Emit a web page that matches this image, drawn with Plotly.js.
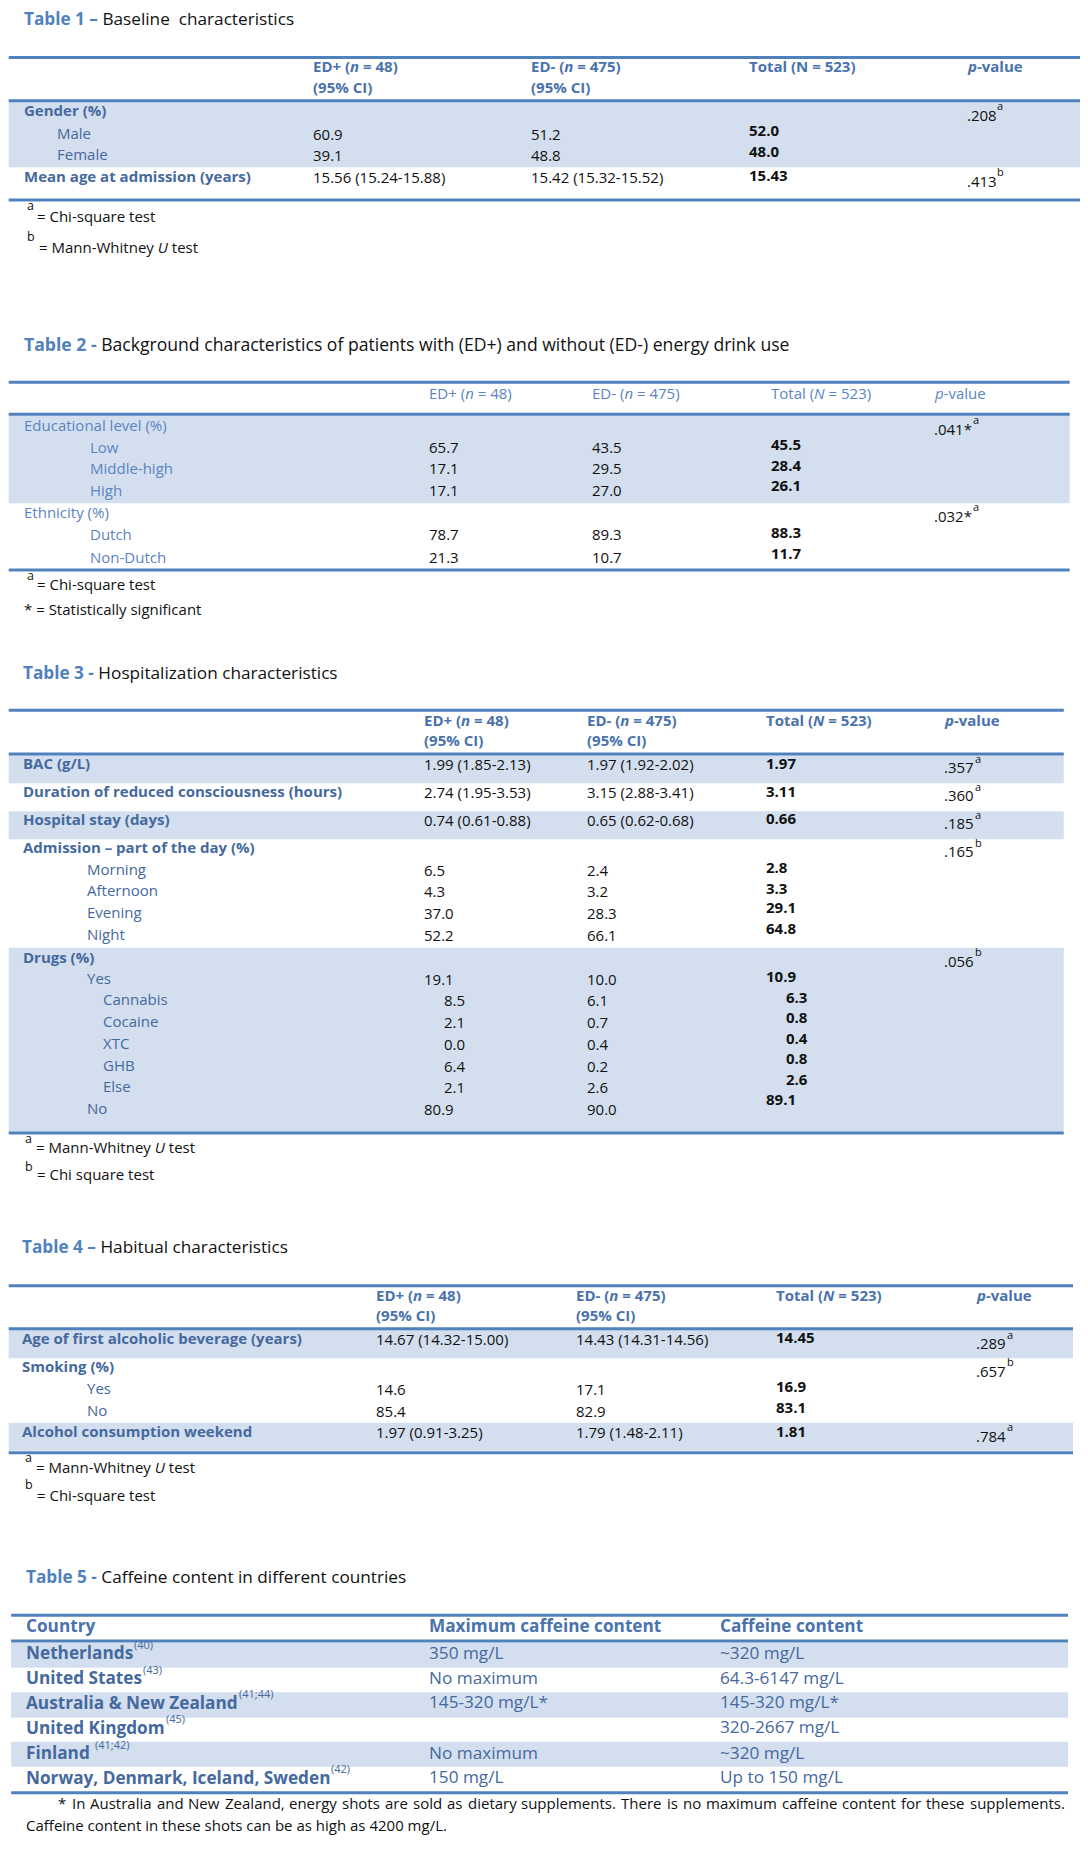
<!DOCTYPE html>
<html><head><meta charset="utf-8">
<script src="https://cdn.plot.ly/plotly-3.0.1.min.js"></script>
<style>html,body{margin:0;padding:0;background:#fff}</style>
</head><body><div id="chart" style="width:1088px;height:1850px"></div>
<script>
// ---------------- DATA ----------------
// Table 1
const t1Title = ["Table 1 –", "Baseline\u00a0 characteristics"];
const t1Header = ["ED+ (<i>n</i> = 48)", "ED- (<i>n</i> = 475)", "Total (N = 523)", "<i>p</i>-value"];
const t1Header2 = ["(95% CI)", "(95% CI)", "", ""];
const t1Labels = ["Gender (%)", "Male", "Female", "Mean age at admission (years)"];
const t1Level = [0, 1, 1, 0];
const t1EDplus = ["", "60.9", "39.1", "15.56 (15.24-15.88)"];
const t1EDminus = ["", "51.2", "48.8", "15.42 (15.32-15.52)"];
const t1Total = ["", "52.0", "48.0", "15.43"];
const t1P = [".208", "", "", ".413"];
const t1PSup = ["a", "", "", "b"];
const t1Notes = [["a", "= Chi-square test"], ["b", "= Mann-Whitney <i>U</i> test"]];

// Table 2
const t2Title = ["Table 2 -", "Background characteristics of patients with (ED+) and without (ED-) energy drink use"];
const t2Header = ["ED+ (<i>n</i> = 48)", "ED- (<i>n</i> = 475)", "Total (<i>N</i> = 523)", "<i>p</i>-value"];
const t2Labels = ["Educational level (%)", "Low", "Middle-high", "High", "Ethnicity (%)", "Dutch", "Non-Dutch"];
const t2Level = [0, 1, 1, 1, 0, 1, 1];
const t2EDplus = ["", "65.7", "17.1", "17.1", "", "78.7", "21.3"];
const t2EDminus = ["", "43.5", "29.5", "27.0", "", "89.3", "10.7"];
const t2Total = ["", "45.5", "28.4", "26.1", "", "88.3", "11.7"];
const t2P = [".041*", "", "", "", ".032*", "", ""];
const t2PSup = ["a", "", "", "", "a", "", ""];
const t2Notes = [["a", "= Chi-square test"], ["", "* = Statistically significant"]];

// Table 3
const t3Title = ["Table 3 -", "Hospitalization characteristics"];
const t3Header = ["ED+ (<i>n</i> = 48)", "ED- (<i>n</i> = 475)", "Total (<i>N</i> = 523)", "<i>p</i>-value"];
const t3Header2 = ["(95% CI)", "(95% CI)", "", ""];
const t3Labels = ["BAC (g/L)", "Duration of reduced consciousness (hours)", "Hospital stay (days)",
  "Admission – part of the day (%)", "Morning", "Afternoon", "Evening", "Night", "Drugs (%)", "Yes",
  "Cannabis", "Cocaine", "XTC", "GHB", "Else", "No"];
const t3Level = [0, 0, 0, 0, 1, 1, 1, 1, 0, 1, 2, 2, 2, 2, 2, 1];
const t3EDplus = ["1.99 (1.85-2.13)", "2.74 (1.95-3.53)", "0.74 (0.61-0.88)", "", "6.5", "4.3", "37.0", "52.2",
  "", "19.1", "8.5", "2.1", "0.0", "6.4", "2.1", "80.9"];
const t3EDminus = ["1.97 (1.92-2.02)", "3.15 (2.88-3.41)", "0.65 (0.62-0.68)", "", "2.4", "3.2", "28.3", "66.1",
  "", "10.0", "6.1", "0.7", "0.4", "0.2", "2.6", "90.0"];
const t3Total = ["1.97", "3.11", "0.66", "", "2.8", "3.3", "29.1", "64.8", "", "10.9", "6.3", "0.8", "0.4", "0.8", "2.6", "89.1"];
const t3P = [".357", ".360", ".185", ".165", "", "", "", "", ".056", "", "", "", "", "", "", ""];
const t3PSup = ["a", "a", "a", "b", "", "", "", "", "b", "", "", "", "", "", "", ""];
const t3Notes = [["a", "= Mann-Whitney <i>U</i> test"], ["b", "= Chi square test"]];

// Table 4
const t4Title = ["Table 4 –", "Habitual characteristics"];
const t4Header = ["ED+ (<i>n</i> = 48)", "ED- (<i>n</i> = 475)", "Total (<i>N</i> = 523)", "<i>p</i>-value"];
const t4Header2 = ["(95% CI)", "(95% CI)", "", ""];
const t4Labels = ["Age of first alcoholic beverage (years)", "Smoking (%)", "Yes", "No", "Alcohol consumption weekend"];
const t4Level = [0, 0, 1, 1, 0];
const t4EDplus = ["14.67 (14.32-15.00)", "", "14.6", "85.4", "1.97 (0.91-3.25)"];
const t4EDminus = ["14.43 (14.31-14.56)", "", "17.1", "82.9", "1.79 (1.48-2.11)"];
const t4Total = ["14.45", "", "16.9", "83.1", "1.81"];
const t4P = [".289", ".657", "", "", ".784"];
const t4PSup = ["a", "b", "", "", "a"];
const t4Notes = [["a", "= Mann-Whitney <i>U</i> test"], ["b", "= Chi-square test"]];

// Table 5
const t5Title = ["Table 5 -", "Caffeine content in different countries"];
const t5Header = ["Country", "Maximum caffeine content", "Caffeine content"];
const t5Country = ["Netherlands", "United States", "Australia & New Zealand", "United Kingdom", "Finland ", "Norway, Denmark, Iceland, Sweden"];
const t5Ref = ["(40)", "(43)", "(41;44)", "(45)", "(41;42)", "(42)"];
const t5Max = ["350 mg/L", "No maximum", "145-320 mg/L*", "", "No maximum", "150 mg/L"];
const t5Content = ["~320 mg/L", "64.3-6147 mg/L", "145-320 mg/L*", "320-2667 mg/L", "~320 mg/L", "Up to 150 mg/L"];
const t5Note = ["* In Australia and New Zealand, energy shots are sold as dietary supplements. There is no maximum caffeine content for these supplements.",
  "Caffeine content in these shots can be as high as 4200 mg/L."];

// ---------------- STYLE / LAYOUT ----------------
const FONT = "'Open Sans', 'Noto Sans', sans-serif";
const SZ = 15, TSZ = 17.2, S5 = 17.2, SUP = 11, NMK = 12.5;
const RULE = "#4F81BD", BAND = "#D3DFEE", TBLUE = "#4F81BD", HBLUE = "#4A72AC",
  LBLUE = "#45699E", L2BLUE = "#5B84C2", BLACK = "#111111";
const ann = [], shapes = [];

const ctx = document.createElement('canvas').getContext('2d');
function tw(str, size, bold) {
  ctx.font = (bold ? 'bold ' : '') + size + "px 'Open Sans'";
  return ctx.measureText(str).width;
}

function T(x, y, text, o) {
  o = o || {};
  if (text === "" || text == null) return;
  ann.push({x: x, y: y, xref: 'x', yref: 'y', text: text, showarrow: false,
    xanchor: o.xa || 'left', yanchor: 'middle', align: 'left', borderpad: 0,
    font: {family: FONT, size: o.size || SZ, color: o.color || BLACK}});
}
function hr(x0, x1, y, w) {
  shapes.push({type: 'line', xref: 'x', yref: 'y', x0: x0, x1: x1, y0: y, y1: y,
    line: {color: RULE, width: w || 3}});
}
function band(x0, x1, y0, y1) {
  shapes.push({type: 'rect', xref: 'x', yref: 'y', x0: x0, x1: x1, y0: y0, y1: y1,
    fillcolor: BAND, line: {width: 0}, layer: 'below'});
}
const B = s => s ? '<b>' + s + '</b>' : s;
function title(x, y, t, size) {
  T(x, y, '<span style="color:' + TBLUE + '"><b>' + t[0] + '</b></span> ' + t[1], {size: size || TSZ});
}
function pval(x, y, p, sup) {
  if (!p) return;
  T(x, y, p);
  if (sup) T(x + tw(p, SZ, false) + 1, y - 9, sup, {size: SUP});
}
function notes(list, geo) {
  list.forEach((n, i) => {
    const g = geo[i];
    if (n[0]) T(g[0], g[1], n[0], {size: NMK});
    T(g[2], g[3], n[1]);
  });
}
// justified single line: words spread between x0 and x1
function justify(str, x0, x1, y) {
  const words = str.split(' ');
  const widths = words.map(w => tw(w, SZ, false));
  const total = widths.reduce((a, b) => a + b, 0);
  const gap = (x1 - x0 - total) / (words.length - 1);
  let x = x0;
  words.forEach((w, i) => { T(x, y, w); x += widths[i] + gap; });
}

// generic stats table
function statTable(L, d) {
  title(L.titleX, L.titleY, d.title, L.titleSize);
  L.bands.forEach(bb => band(L.x0, L.x1, bb[0], bb[1]));
  hr(L.x0, L.x1, L.rule[0]); hr(L.x0, L.x1, L.rule[1]); hr(L.x0, L.x1, L.rule[2]);
  d.header.forEach((h, i) => {
    const txt = L.boldHdr ? B(h) : h;
    T(L.cols[i], L.hdrY[0], txt, {color: L.boldHdr ? HBLUE : L2BLUE});
    if (d.header2 && d.header2[i]) T(L.cols[i], L.hdrY[1], B(d.header2[i]), {color: HBLUE});
  });
  d.labels.forEach((lab, i) => {
    const lv = d.level[i];
    const y = L.rowY[i];
    const txt = (lv === 0 && L.boldTop) ? B(lab) : lab;
    T(L.indent[lv], y, txt, {color: L.boldTop ? LBLUE : L2BLUE});
    const sh = lv === 2 ? L.subShift : 0;
    T(L.cols[0] + sh, y + L.dyVal, d.edp[i]);
    T(L.cols[1], y + L.dyVal, d.edm[i]);
    T(L.cols[2] + (lv === 2 ? L.subShiftTot : 0), L.totY[i], B(d.tot[i]));
    pval(L.cols[3], y + L.dyP, d.p[i], d.psup[i]);
  });
  notes(d.notes, L.noteGeo);
}

// Table 1
statTable({
  titleX: 22.9, titleY: 18.5, x0: 8.7, x1: 1080, rule: [57.5, 100.7, 200],
  bands: [[101.7, 167.3]], hdrY: [66, 87.3], cols: [312.3, 530.2, 748, 965.6],
  indent: [22.9, 55.5], rowY: [110, 132.7, 154, 176], totY: [110, 130, 150.7, 175],
  dyVal: 0.8, dyP: 4.5, subShift: 0, subShiftTot: 0, boldHdr: true, boldTop: true,
  noteGeo: [[26, 205, 36.4, 216], [26, 236, 37.5, 247]]
}, {title: t1Title, header: t1Header, header2: t1Header2, labels: t1Labels, level: t1Level,
  edp: t1EDplus, edm: t1EDminus, tot: t1Total, p: t1P, psup: t1PSup, notes: t1Notes});

// Table 2
statTable({
  titleX: 22.9, titleY: 344, titleSize: 17.6, x0: 8.7, x1: 1069.7, rule: [382.3, 414.3, 570],
  bands: [[415.7, 503.3]], hdrY: [392.7, 0], cols: [427.5, 590.8, 770.2, 932.6],
  indent: [22.9, 88.5], rowY: [425, 446.7, 468.3, 490, 511.7, 534.3, 556.7],
  totY: [425, 444, 465, 485, 511.7, 531.7, 552.7],
  dyVal: 0, dyP: 3.8, subShift: 0, subShiftTot: 0, boldHdr: false, boldTop: false,
  noteGeo: [[26, 575, 36.4, 584], [0, 0, 22.9, 608.7]]
}, {title: t2Title, header: t2Header, header2: null, labels: t2Labels, level: t2Level,
  edp: t2EDplus, edm: t2EDminus, tot: t2Total, p: t2P, psup: t2PSup, notes: t2Notes});

// Table 3
statTable({
  titleX: 21.5, titleY: 672, x0: 8.7, x1: 1063.8, rule: [710.3, 754, 1133],
  bands: [[755.3, 783.3], [811.3, 839.3], [947.7, 1131.7]], hdrY: [720, 740], cols: [423.3, 585.6, 764.7, 943],
  indent: [21.5, 86, 101.7],
  rowY: [763.3, 791, 819, 847, 869, 890, 912, 934, 956.7, 977.7, 999, 1020.7, 1042.7, 1065, 1086, 1107.7],
  totY: [762.7, 790.7, 818.3, 847, 866.7, 887.7, 907.3, 928.3, 956.7, 975.7, 996.7, 1016.7, 1037.7, 1057.7, 1078.7, 1098.7],
  dyVal: 1, dyP: 4, subShift: 20.1, subShiftTot: 19.8, boldHdr: true, boldTop: true,
  noteGeo: [[23.6, 1138.3, 34.7, 1146.7], [23.6, 1166, 36.4, 1174.3]]
}, {title: t3Title, header: t3Header, header2: t3Header2, labels: t3Labels, level: t3Level,
  edp: t3EDplus, edm: t3EDminus, tot: t3Total, p: t3P, psup: t3PSup, notes: t3Notes});

// Table 4
statTable({
  titleX: 20.8, titleY: 1246.7, x0: 8.7, x1: 1073, rule: [1285.7, 1328.7, 1452.7],
  bands: [[1330, 1358.3], [1422.7, 1450.7]], hdrY: [1295, 1315], cols: [374.7, 574.5, 774.7, 975.3],
  indent: [20.8, 86], rowY: [1338.3, 1365.7, 1387.7, 1410, 1430.7],
  totY: [1337.3, 1365.7, 1386, 1406.7, 1430.7],
  dyVal: 0.8, dyP: 4.8, subShift: 0, subShiftTot: 0, boldHdr: true, boldTop: true,
  noteGeo: [[23.6, 1457.3, 34.7, 1466.7], [23.6, 1484.3, 35.7, 1495]]
}, {title: t4Title, header: t4Header, header2: t4Header2, labels: t4Labels, level: t4Level,
  edp: t4EDplus, edm: t4EDminus, tot: t4Total, p: t4P, psup: t4PSup, notes: t4Notes});

// Table 5
(function () {
  const x0 = 11.1, x1 = 1068, cols = [25, 427.5, 719.2];
  const rowY = [1651, 1676, 1700.5, 1725.5, 1751, 1775.5];
  title(25, 1576, t5Title);
  [[1642.7, 1667.7], [1692.3, 1717.7], [1741.7, 1766.7]].forEach(bb => band(x0, x1, bb[0], bb[1]));
  hr(x0, x1, 1615.3); hr(x0, x1, 1641); hr(x0, x1, 1792.7);
  t5Header.forEach((h, i) => T(cols[i], 1625, B(h), {size: S5, color: HBLUE}));
  t5Country.forEach((c, i) => {
    T(cols[0], rowY[i] + 1.5, B(c), {size: S5, color: LBLUE});
    T(cols[0] + tw(c, S5, true) + 1, rowY[i] - 7, t5Ref[i], {size: SUP, color: LBLUE});
    T(cols[1], rowY[i] + 1.3, t5Max[i], {size: S5, color: LBLUE});
    T(cols[2], rowY[i] + 1.3, t5Content[i], {size: S5, color: LBLUE});
  });
  justify(t5Note[0], 57.3, 1063.4, 1803.3);
  T(25, 1825, t5Note[1]);
})();

const layout = {
  width: 1088, height: 1850, margin: {l: 0, r: 0, t: 0, b: 0},
  paper_bgcolor: '#ffffff', plot_bgcolor: '#ffffff', showlegend: false,
  xaxis: {range: [0, 1088], visible: false, fixedrange: true},
  yaxis: {range: [1850, 0], visible: false, fixedrange: true},
  annotations: ann, shapes: shapes
};
Plotly.newPlot('chart', [{type: 'scatter', x: [], y: [], hoverinfo: 'skip'}], layout,
  {staticPlot: true, displayModeBar: false});
</script>
</body></html>
